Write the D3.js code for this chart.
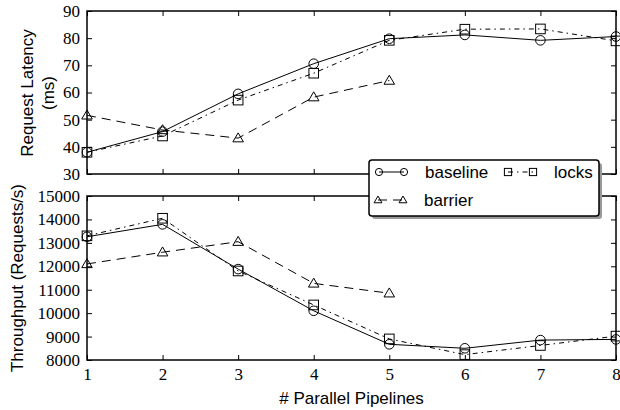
<!DOCTYPE html>
<html>
<head>
<meta charset="utf-8">
<script src="https://cdn.jsdelivr.net/npm/d3@7"></script>
<style>
  body { margin: 0; background: #fff; }
</style>
</head>
<body>
<div id="chart"></div>
<script>
// data
var pipelines = [1, 2, 3, 4, 5, 6, 7, 8];
var latencyBaseline = [38, 45.6, 59.5, 70.6, 79.8, 81.2, 79.2, 80.6];
var latencyLocks = [38, 44, 57.2, 67.1, 79.2, 83.3, 83.4, 79];
var latencyBarrier = [51.6, 46.2, 43.2, 58.3, 64.4];
var tputBaseline = [13260, 13790, 11880, 10100, 8670, 8500, 8850, 8880];
var tputLocks = [13300, 14050, 11800, 10350, 8900, 8230, 8620, 9020];
var tputBarrier = [12100, 12600, 13050, 11270, 10850];
var latencyTicks = [30, 40, 50, 60, 70, 80, 90];
var tputTicks = [8000, 9000, 10000, 11000, 12000, 13000, 14000, 15000];

var W = 620, H = 410;
var left = 87, right = 616;
var serif = "Liberation Serif";
var sans = "Liberation Sans";

var svg = d3.select("#chart").append("svg")
  .attr("width", W).attr("height", H);

var x = d3.scaleLinear().domain([1, 8]).range([left, right]);

var series = [
  {name: "baseline", marker: "circle", dash: null},
  {name: "locks", marker: "square", dash: "5,4,1.5,4"},
  {name: "barrier", marker: "triangle", dash: "9,6"}
];

function drawMarker(g, type, cx, cy, s) {
  if (type == "circle") {
    g.append("circle").attr("cx", cx).attr("cy", cy).attr("r", s)
      .attr("fill", "none").attr("stroke", "black").attr("stroke-width", 1);
  } else if (type == "square") {
    g.append("rect").attr("x", cx - s).attr("y", cy - s)
      .attr("width", 2 * s).attr("height", 2 * s)
      .attr("fill", "none").attr("stroke", "black").attr("stroke-width", 1);
  } else {
    var h = s * 1.1;
    g.append("path")
      .attr("d", "M" + cx + "," + (cy - h) + "L" + (cx + s * 1.1) + "," + (cy + h * 0.7) +
        "L" + (cx - s * 1.1) + "," + (cy + h * 0.7) + "Z")
      .attr("fill", "none").attr("stroke", "black").attr("stroke-width", 1);
  }
}

function panel(top, bottom, domain, ticks, data, showX) {
  var y = d3.scaleLinear().domain(domain).range([bottom, top]);
  var g = svg.append("g");

  // inward ticks on all four sides
  var ya = g.append("g").attr("transform", "translate(" + left + ",0)")
    .call(d3.axisLeft(y).tickValues(ticks).tickSize(-5).tickPadding(7).tickFormat(d3.format("d")))
    .call(a => a.select(".domain").remove());
  ya.attr("font-family", serif).attr("font-size", 17);
  ya.selectAll("text").attr("fill", "black");
  g.append("g").attr("transform", "translate(" + right + ",0)")
    .call(d3.axisRight(y).tickValues(ticks).tickSize(-5).tickFormat(""))
    .call(a => a.select(".domain").remove());
  var xb = g.append("g").attr("transform", "translate(0," + bottom + ")")
    .call(d3.axisBottom(x).tickValues(pipelines).tickSize(-5).tickPadding(8)
      .tickFormat(showX ? d3.format("d") : ""))
    .call(a => a.select(".domain").remove());
  xb.attr("font-family", serif).attr("font-size", 17);
  xb.selectAll("text").attr("fill", "black");
  g.append("g").attr("transform", "translate(0," + top + ")")
    .call(d3.axisTop(x).tickValues(pipelines).tickSize(-5).tickFormat(""))
    .call(a => a.select(".domain").remove());
  g.selectAll(".tick line").attr("stroke", "black").attr("stroke-width", 1);

  var line = d3.line().x((d, i) => x(pipelines[i])).y(d => y(d));
  data.forEach(function (vals, k) {
    g.append("path").datum(vals)
      .attr("d", line)
      .attr("fill", "none").attr("stroke", "black").attr("stroke-width", 1)
      .attr("stroke-dasharray", series[k].dash);
    vals.forEach(function (v, i) {
      drawMarker(g, series[k].marker, x(pipelines[i]), y(v), 4.8);
    });
  });

  g.append("rect").attr("x", left).attr("y", top)
    .attr("width", right - left).attr("height", bottom - top)
    .attr("fill", "none").attr("stroke", "black").attr("stroke-width", 1.5);
}

panel(11, 174, [30, 90], latencyTicks, [latencyBaseline, latencyLocks, latencyBarrier], false);
panel(196, 360, [8000, 15000], tputTicks, [tputBaseline, tputLocks, tputBarrier], true);

// axis labels
svg.append("text")
  .attr("transform", "translate(33,93) rotate(-90)")
  .attr("text-anchor", "middle")
  .attr("font-family", sans).attr("font-size", 17)
  .text("Request Latency");
svg.append("text")
  .attr("transform", "translate(54,93) rotate(-90)")
  .attr("text-anchor", "middle")
  .attr("font-family", sans).attr("font-size", 17)
  .text("(ms)");
svg.append("text")
  .attr("transform", "translate(23,278) rotate(-90)")
  .attr("text-anchor", "middle")
  .attr("font-family", sans).attr("font-size", 17)
  .text("Throughput (Requests/s)");
svg.append("text")
  .attr("x", (left + right) / 2).attr("y", 404)
  .attr("text-anchor", "middle")
  .attr("font-family", sans).attr("font-size", 17)
  .text("# Parallel Pipelines");

// legend
var lg = svg.append("g");
lg.append("rect").attr("x", 372).attr("y", 163).attr("width", 230).attr("height", 56)
  .attr("rx", 3).attr("fill", "#999");
lg.append("rect").attr("x", 369).attr("y", 160).attr("width", 230).attr("height", 56)
  .attr("rx", 3).attr("fill", "white").attr("stroke", "black").attr("stroke-width", 1.5);
var legendItems = [
  {k: 0, x: 379, y: 172},
  {k: 1, x: 508, y: 172},
  {k: 2, x: 378, y: 200}
];
legendItems.forEach(function (it) {
  var s = series[it.k];
  lg.append("line").attr("x1", it.x).attr("x2", it.x + 25)
    .attr("y1", it.y).attr("y2", it.y)
    .attr("stroke", "black").attr("stroke-width", 1)
    .attr("stroke-dasharray", s.dash);
  drawMarker(lg, s.marker, it.x, it.y, 3.6);
  drawMarker(lg, s.marker, it.x + 25, it.y, 3.6);
  lg.append("text").attr("x", it.x + 46).attr("y", it.y + 6)
    .attr("font-family", sans).attr("font-size", 17)
    .text(s.name);
});
</script>
</body>
</html>
